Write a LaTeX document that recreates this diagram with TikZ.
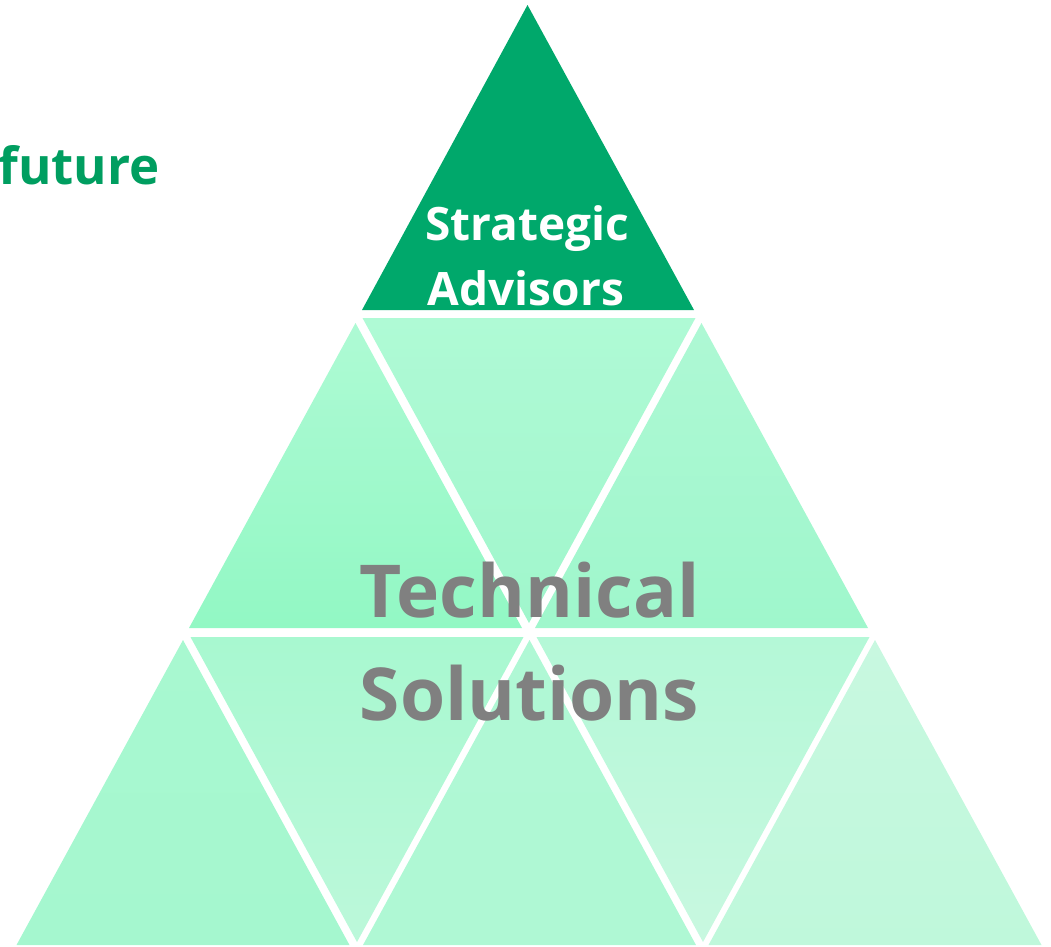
\documentclass[tikz,border=0pt]{standalone}
\usepackage{fontspec}
\setmainfont{Open Sans}
\definecolor{topgreen}{RGB}{0,168,107}
\definecolor{futgreen}{RGB}{0,158,96}
\definecolor{txtgray}{RGB}{128,128,128}
\definecolor{ca}{RGB}{174,250,212}
\definecolor{cb}{RGB}{146,248,196}
\definecolor{cc}{RGB}{175,250,213}
\definecolor{cd}{RGB}{160,246,204}
\definecolor{ce}{RGB}{174,248,212}
\definecolor{cf}{RGB}{159,247,204}
\definecolor{cg}{RGB}{168,248,208}
\definecolor{ch}{RGB}{165,247,207}
\definecolor{ci}{RGB}{188,248,218}
\definecolor{cj}{RGB}{176,248,213}
\definecolor{ck}{RGB}{175,248,212}
\definecolor{cl}{RGB}{180,248,215}
\definecolor{cm}{RGB}{200,248,224}
\definecolor{cn}{RGB}{191,248,219}
\newcommand\uptri[4]{\shade[top color=#3,bottom color=#4] (#1,#2) -- ++(-166.5,305) -- ++(333,0) -- cycle;}
\newcommand\dntri[4]{\shade[top color=#3,bottom color=#4] (#1-166.5,#2) -- ++(333,0) -- ++(-166.5,305) -- cycle;}
\begin{document}
\begin{tikzpicture}[x=1pt,y=-1pt,
  lbl/.style={anchor=base,inner sep=0pt,font=\bfseries},
  bigtxt/.style={lbl,text=txtgray,font=\bfseries\fontsize{73}{80}\selectfont}]
\useasboundingbox (0,0) rectangle (1051,946);
% top triangle
\fill[topgreen] (527.5,5) -- (362,310) -- (694,310) -- cycle;
% row 2
\uptri{355.5}{323}{ca}{cb}
\dntri{529}{318}{cc}{cd}
\uptri{701.5}{323}{ce}{cf}
% row 3
\uptri{183}{640}{cg}{ch}
\dntri{357}{637}{cg}{ci}
\uptri{529.5}{640}{cj}{ck}
\dntri{703}{637}{cl}{cm}
\uptri{875}{640}{cm}{cn}
% texts
\node[lbl,text=white,font=\bfseries\fontsize{46}{50}\selectfont] (s1) at (527,240) {Strategic};
\node[lbl,text=white,font=\bfseries\fontsize{46}{50}\selectfont] (s2) at (526,305) {Advisors};
\node[bigtxt] (t1) at (529.5,617) {Technical};
\node[bigtxt] (t2) at (529.5,720) {Solutions};
\node[anchor=base east,inner sep=0pt,text=futgreen,font=\bfseries\fontsize{51}{55}\selectfont] (fu) at (160,184) {future};
\end{tikzpicture}
\end{document}
